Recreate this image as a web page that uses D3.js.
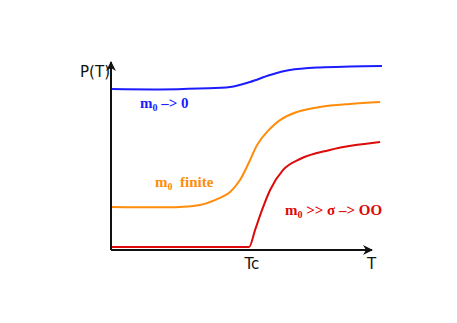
<!DOCTYPE html>
<html>
<head>
<meta charset="utf-8">
<script src="https://cdn.jsdelivr.net/npm/d3@7"></script>
<style>
  body { margin: 0; background: #fff; }
  svg { display: block; }
</style>
</head>
<body>
<div id="chart"></div>
<script>
// values (T and P in arbitrary units, 0..1)
const blueT   = [0.004, 0.188, 0.338, 0.458, 0.535, 0.612, 0.688, 0.804, 0.919, 1.042];
const blueP   = [0.856, 0.854, 0.859, 0.867, 0.894, 0.931, 0.957, 0.971, 0.976, 0.979];
const orangeT = [0.004, 0.265, 0.342, 0.419, 0.458, 0.496, 0.535, 0.562, 0.600, 0.650, 0.715, 0.804, 0.919, 1.035];
const orangeP = [0.229, 0.229, 0.239, 0.277, 0.309, 0.372, 0.479, 0.559, 0.628, 0.691, 0.734, 0.761, 0.777, 0.787];
const redT    = [0.004, 0.531, 0.554, 0.581, 0.612, 0.662, 0.727, 0.842, 1.035];
const redP    = [0.016, 0.016, 0.106, 0.213, 0.319, 0.426, 0.484, 0.532, 0.574];
const tickVals   = [0.54, 1.0];
const tickLabels = ["Tc", "T"];

const width = 457, height = 323;
const margin = {top: 62, right: 86, bottom: 73, left: 111};

const svg = d3.select("#chart").append("svg")
  .attr("width", width)
  .attr("height", height);

const x = d3.scaleLinear().domain([0, 1]).range([margin.left, width - margin.right]);
const y = d3.scaleLinear().domain([0, 1]).range([height - margin.bottom, margin.top]);

// arrow heads
const defs = svg.append("defs");
defs.append("marker")
  .attr("id", "arrow")
  .attr("viewBox", "0 0 10 10")
  .attr("refX", 9).attr("refY", 5)
  .attr("markerWidth", 5).attr("markerHeight", 5)
  .attr("orient", "auto")
  .append("path")
  .attr("d", "M0,0 L10,5 L0,10 L3,5 Z")
  .attr("fill", "#111");

// x axis
const xAxis = svg.append("g")
  .attr("transform", "translate(0," + y(0) + ")")
  .call(d3.axisBottom(x)
    .tickValues(tickVals)
    .tickFormat((d, i) => tickLabels[i])
    .tickSize(0)
    .tickPadding(8));
xAxis.select(".domain").remove();
xAxis.selectAll("text")
  .style("font-family", "'DejaVu Sans', sans-serif")
  .style("font-size", "15px")
  .attr("fill", "#111");

svg.append("line")
  .attr("x1", x(0)).attr("y1", y(0))
  .attr("x2", x(1.0) + 1).attr("y2", y(0))
  .attr("stroke", "#111").attr("stroke-width", 2)
  .attr("marker-end", "url(#arrow)");

// y axis
svg.append("line")
  .attr("x1", x(0)).attr("y1", y(0))
  .attr("x2", x(0)).attr("y2", y(1))
  .attr("stroke", "#111").attr("stroke-width", 2)
  .attr("marker-end", "url(#arrow)");

svg.append("text")
  .attr("x", x(0) - 1)
  .attr("y", y(1) + 15)
  .attr("text-anchor", "end")
  .style("font-family", "'DejaVu Sans', sans-serif")
  .style("font-size", "15px")
  .attr("fill", "#111")
  .text("P(T)");

// curves
const smooth = d3.line()
  .x(d => x(d[0]))
  .y(d => y(d[1]))
  .curve(d3.curveCatmullRom.alpha(0.5));

const kinked = d3.line()
  .x(d => x(d[0]))
  .y(d => y(d[1]))
  .curve(d3.curveMonotoneX);

const series = [
  {t: blueT, p: blueP, color: "#1c1cff", gen: smooth},
  {t: orangeT, p: orangeP, color: "#ff8c0a", gen: smooth},
  {t: redT, p: redP, color: "#dd0a0a", gen: kinked}
];

series.forEach(s => {
  svg.append("path")
    .datum(d3.zip(s.t, s.p))
    .attr("fill", "none")
    .attr("stroke", s.color)
    .attr("stroke-width", 2)
    .attr("d", s.gen);
});

// labels
function label(px, py, color, after) {
  const t = svg.append("text")
    .attr("x", px).attr("y", py)
    .attr("fill", color)
    .style("font-family", "'Liberation Serif', serif")
    .style("font-weight", "bold")
    .style("font-size", "15px")
    .style("white-space", "pre");
  t.append("tspan").text("m");
  t.append("tspan").attr("dy", 3).style("font-size", "10px").text("0");
  t.append("tspan").attr("dy", -3).text(after);
}

label(140, 108, "#1c1cff", " \u2013> 0");
label(155, 187, "#ff8c0a", "\u00a0 finite");
label(285, 215, "#dd0a0a", " >> \u03c3 \u2013> OO");
</script>
</body>
</html>
